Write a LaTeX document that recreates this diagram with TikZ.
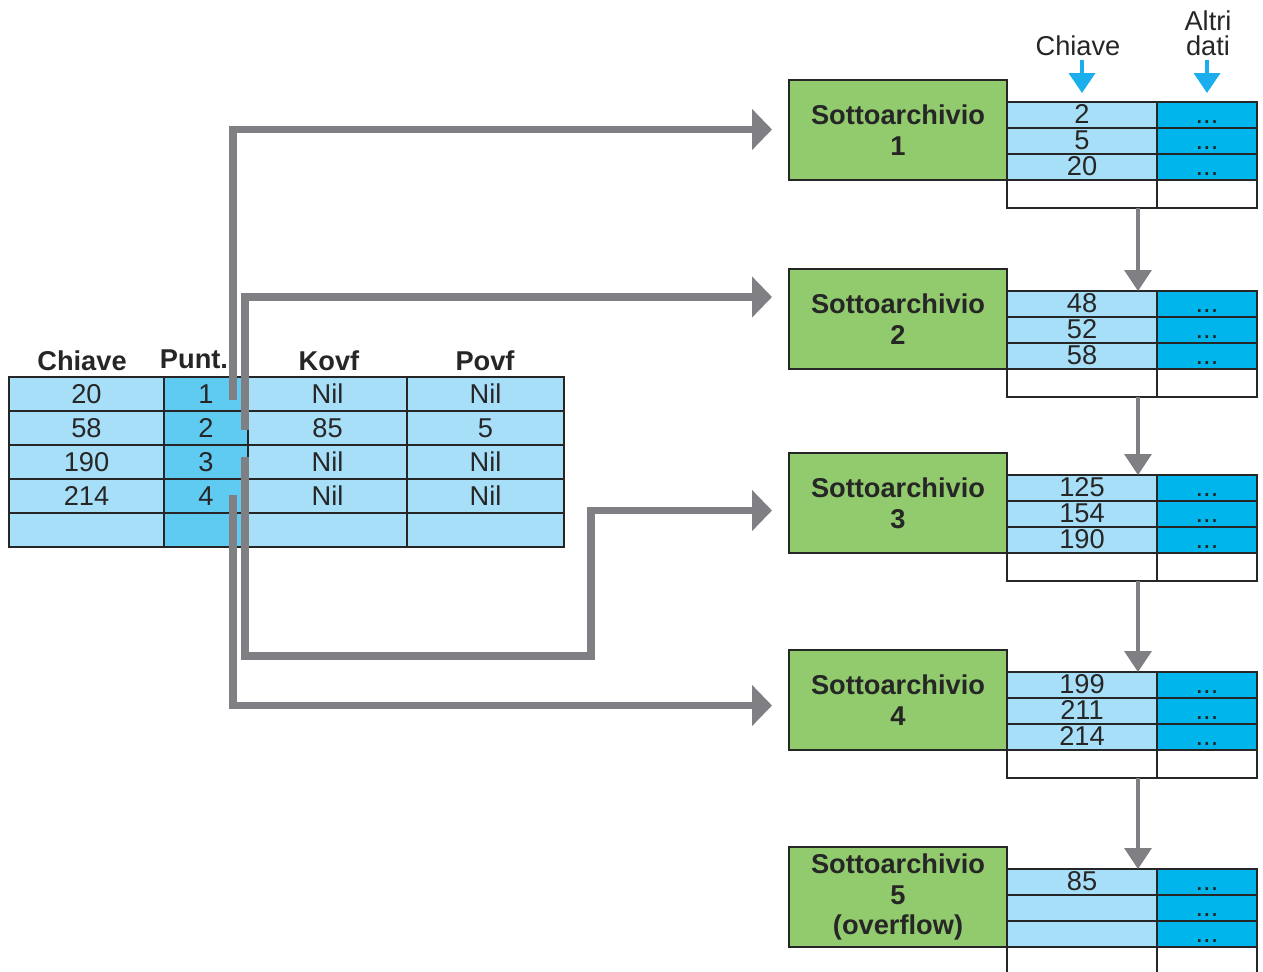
\documentclass[tikz,border=0pt]{standalone}
\usepackage{fontspec}
\setmainfont{Liberation Sans}
\usetikzlibrary{arrows.meta}

\definecolor{cellblue}{HTML}{A8DFF8}
\definecolor{ptrblue}{HTML}{5FCBF1}
\definecolor{datablue}{HTML}{00B5EC}
\definecolor{boxgreen}{HTML}{91CB6E}
\definecolor{linkgray}{HTML}{808084}
\definecolor{markblue}{HTML}{1AAEEC}
\definecolor{ink}{HTML}{262626}

\tikzset{
  txt/.style={font=\fontsize{15.5}{17.5}\selectfont, text=ink},
  hdr/.style={font=\fontsize{15.5}{17.5}\selectfont\bfseries, text=ink, inner sep=0, anchor=base},
  cell/.style={txt, draw=ink, line width=0.8pt, inner sep=0, outer sep=0, anchor=north west},
  keycell/.style={cell, fill=cellblue, minimum width={150*0.02cm}, minimum height={26*0.02cm},
    text height=12pt, text depth=2pt},
  datacell/.style={cell, fill=datablue, minimum width={100*0.02cm}, minimum height={26*0.02cm},
    text height=12pt, text depth=2pt},
  greenbox/.style={cell, fill=boxgreen, align=center, font=\fontsize{15.5}{17.5}\selectfont\bfseries,
    minimum width={218*0.02cm}, minimum height={100*0.02cm}},
  bigarrow/.style={draw=linkgray, line width=4.5pt, line join=miter,
    -{Triangle[length=0.4cm, width=0.8cm]}},
  linkarrow/.style={draw=linkgray, line width=2pt, -{Triangle[length=0.42cm, width=0.54cm]}},
  markarrow/.style={draw=markblue, line width=2.2pt, -{Triangle[length=0.4cm, width=0.52cm]}},
}

\begin{document}
\begin{tikzpicture}[x=0.02cm, y=-0.02cm]
\useasboundingbox (0,0) rectangle (1263,971);

% ---------- index table ----------
\node[hdr] (h-key) at (82,370) {Chiave};
\node[hdr] (h-ptr) at (194,368) {Punt.};
\node[hdr] (h-kovf) at (329,370) {Kovf};
\node[hdr] (h-povf) at (485,370) {Povf};

\foreach \a/\b/\c/\d [count=\i] in {20/1/Nil/Nil, 58/2/85/5, 190/3/Nil/Nil, 214/4/Nil/Nil}{
  \node[cell, fill=cellblue, minimum width={155*0.02cm}, minimum height={34*0.02cm}]
    (l\i-a) at (9,{377+34*(\i-1)}) {\a};
  \node[cell, fill=ptrblue, minimum width={84*0.02cm}, minimum height={34*0.02cm}]
    (l\i-b) at (164,{377+34*(\i-1)}) {\b};
  \node[cell, fill=cellblue, minimum width={159*0.02cm}, minimum height={34*0.02cm}]
    (l\i-c) at (248,{377+34*(\i-1)}) {\c};
  \node[cell, fill=cellblue, minimum width={157*0.02cm}, minimum height={34*0.02cm}]
    (l\i-d) at (407,{377+34*(\i-1)}) {\d};
}
\node[cell, fill=cellblue, minimum width={155*0.02cm}, minimum height={34*0.02cm}] (l5-a) at (9,513) {};
\node[cell, fill=ptrblue, minimum width={84*0.02cm}, minimum height={34*0.02cm}] (l5-b) at (164,513) {};
\node[cell, fill=cellblue, minimum width={159*0.02cm}, minimum height={34*0.02cm}] (l5-c) at (248,513) {};
\node[cell, fill=cellblue, minimum width={157*0.02cm}, minimum height={34*0.02cm}] (l5-d) at (407,513) {};

% ---------- sub-archives ----------
\node[txt, inner sep=0, anchor=base] (t-key) at (1078,55) {Chiave};
\node[txt, inner sep=0, anchor=base, align=center, font=\fontsize{15.5}{14}\selectfont] (t-data) at (1208,55) {Altri\\dati};

\foreach \g/\ka/\kb/\kc/\lab [count=\k] in
  {80/2/5/20/1, 269/48/52/58/2, 453/125/154/190/3, 650/199/211/214/4, 847/85/{}/{}/{5\\(overflow)}}{
  \node[greenbox] (s\k) at (789,\g) {Sottoarchivio\\\lab};
  \node[keycell] (s\k-k1) at (1007,{\g+22}) {\ka};
  \node[keycell] (s\k-k2) at (1007,{\g+48}) {\kb};
  \node[keycell] (s\k-k3) at (1007,{\g+74}) {\kc};
  \node[datacell] (s\k-d1) at (1157,{\g+22}) {...};
  \node[datacell] (s\k-d2) at (1157,{\g+48}) {...};
  \node[datacell] (s\k-d3) at (1157,{\g+74}) {...};
}
\foreach \k in {1,...,4}{
  \node[cell, minimum width={150*0.02cm}, minimum height={28*0.02cm}] (s\k-w1) at (1007,{\ifcase\k\or 180\or 369\or 553\or 750\fi}) {};
  \node[cell, minimum width={100*0.02cm}, minimum height={28*0.02cm}] (s\k-w2) at (1157,{\ifcase\k\or 180\or 369\or 553\or 750\fi}) {};
}
% open bottom row of the overflow area
\node[inner sep=0, outer sep=0, anchor=north west, minimum width={250*0.02cm}, minimum height={26*0.02cm}] (s5-w) at (1007,947) {};
\draw[ink, line width=0.8pt] (s5-w.north west) -- (s5-w.south west)
  ([xshift={150*0.02cm}]s5-w.north west) -- ([xshift={150*0.02cm}]s5-w.south west)
  (s5-w.north east) -- (s5-w.south east);

% chain links between sub-archives
\foreach \k [evaluate=\k as \n using int(\k+1)] in {1,...,4}{
  \draw[linkarrow] ([xshift={-19*0.02cm}]s\k-w1.south east) -- ([xshift={-19*0.02cm}]s\n-k1.north east);
}

% column markers
\coordinate (mk) at (1082,60);
\coordinate (md) at (1207,60);
\draw[markarrow] (mk) -- ([yshift={9*0.02cm}]s1-k1.north);
\draw[markarrow] (md) -- ([yshift={9*0.02cm}]s1-d1.north);

% ---------- pointers from the index ----------
\coordinate (p1) at (233,400);
\coordinate (p2) at (245,430);
\coordinate (p3) at (245,457);
\coordinate (p4) at (233,495);
\coordinate (e1) at (772,129.5);
\coordinate (e2) at (772,297);
\coordinate (e3) at (772,510.5);
\coordinate (e4) at (772,705.5);
\coordinate (b3) at (591,656);

\draw[bigarrow] (p1) |- (e1);
\draw[bigarrow] (p2) |- (e2);
\draw[bigarrow] (p3) |- (b3) |- (e3);
\draw[bigarrow] (p4) |- (e4);
\end{tikzpicture}
\end{document}
